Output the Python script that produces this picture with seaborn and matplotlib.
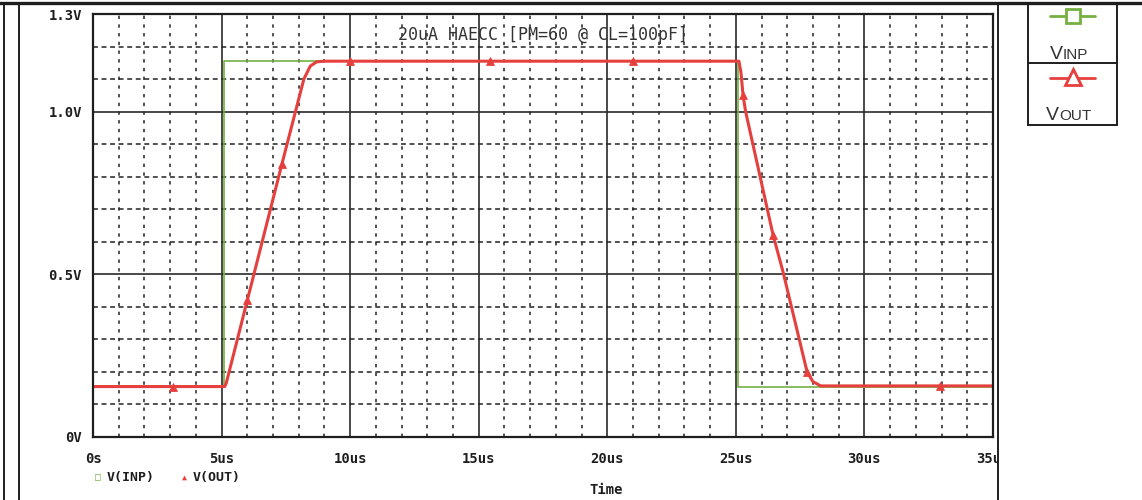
import numpy as np
import matplotlib
matplotlib.use("Agg")
import matplotlib.pyplot as plt
from matplotlib.lines import Line2D
from matplotlib.patches import Rectangle
from matplotlib.ticker import MultipleLocator, FixedLocator
from matplotlib.transforms import Bbox, TransformedBbox
import seaborn as sns

# ---- waveform data (time in us, voltage in V) ----
vinp_t = [0.0, 5.08, 5.08, 25.1, 25.1, 35.0]
vinp_v = [0.155, 0.155, 1.155, 1.155, 0.155, 0.155]

vout_t = [0.0, 3.1, 5.12, 5.18, 6.0, 7.35, 8.2, 8.45, 8.7, 9.0, 10.0, 15.45, 21.0,
          25.12, 25.2, 25.28, 25.38, 26.45, 26.84, 27.77, 28.0, 28.3, 32.95, 35.0]
vout_v = [0.155, 0.155, 0.155, 0.165, 0.42, 0.84, 1.10, 1.14, 1.153, 1.155, 1.155, 1.155, 1.155,
          1.155, 1.12, 1.05, 1.0, 0.62, 0.506, 0.2, 0.17, 0.157, 0.157, 0.157]

# probe symbols placed along V(OUT)
mark_t = [3.1, 6.0, 7.35, 10.0, 15.45, 21.0, 25.28, 26.45, 27.77, 32.95]
mark_v = [0.155, 0.42, 0.84, 1.155, 1.155, 1.155, 1.05, 0.62, 0.2, 0.157]

x_major = [0, 5, 10, 15, 20, 25, 30, 35]
x_labels = ["0s", "5us", "10us", "15us", "20us", "25us", "30us", "35us"]
y_major = [0.0, 0.5, 1.0, 1.3]
y_labels = ["0V", "0.5V", "1.0V", "1.3V"]

title_text = "20uA HAECC [PM=60 @ CL=100pF]"
GREEN = "#76b041"
RED = "#e5403d"
INK = "#1e1e1e"

sns.set_style("white")
plt.rcParams["font.family"] = ["DejaVu Sans Mono", "DejaVu Sans"]

W, H = 1142, 500
fig = plt.figure(figsize=(W / 100, H / 100), dpi=100)
fig.patch.set_facecolor("white")


def fx(px):
    return px / W


def fy(py):
    return 1 - py / H


ax = fig.add_axes([fx(93), fy(437), (993 - 93) / W, (437 - 14) / H])
ax.set_xlim(0, 35)
ax.set_ylim(0, 1.3)

# grid: solid majors, dashed/dotted minors
ax.xaxis.set_major_locator(FixedLocator(x_major))
ax.xaxis.set_minor_locator(MultipleLocator(1))
ax.yaxis.set_major_locator(FixedLocator(y_major))
ax.yaxis.set_minor_locator(MultipleLocator(0.1))
ax.xaxis.grid(True, which="major", color="#2a2a2a", lw=1.2, ls="-")
ax.yaxis.grid(True, which="major", color="#2a2a2a", lw=1.2, ls="-")
ax.xaxis.grid(True, which="minor", color="#222222", lw=1.1, ls=(0, (2.2, 3.5)))
ax.yaxis.grid(True, which="minor", color="#222222", lw=1.1, ls=(0, (3.2, 2.4)))
ax.set_axisbelow(True)

sns.lineplot(x=vinp_t, y=vinp_v, sort=False, estimator=None, color=GREEN, lw=1.2, ax=ax)
sns.lineplot(x=vout_t, y=vout_v, sort=False, estimator=None, color=RED, lw=2.2, ax=ax)
sns.scatterplot(x=mark_t, y=mark_v, marker="^", s=32, color=RED, edgecolor=RED,
                linewidth=0.6, ax=ax, zorder=5)

for s in ax.spines.values():
    s.set_visible(True)
    s.set_color(INK)
    s.set_linewidth(1.6)

ax.set_xticklabels(x_labels, fontsize=10, fontweight="bold", color=INK)
ax.set_yticklabels(y_labels, fontsize=10, fontweight="bold", color=INK)
ax.tick_params(which="major", direction="out", length=6, width=1.3, color=INK, pad=2)
ax.tick_params(which="minor", length=0)
ax.tick_params(axis="x", length=5, pad=6)
ax.set_xlabel("")
ax.set_ylabel("")

# last time label is cut by the window frame
clip = TransformedBbox(Bbox([[0, 0], [fx(998), 1]]), fig.transFigure)
for lab in ax.get_xticklabels():
    lab.set_clip_on(True)
    lab.set_clip_box(clip)

ax.text(0.5, 0.95, title_text, transform=ax.transAxes, ha="center", va="center",
        fontsize=12, color="#333333", zorder=6)

# trace list under the axis
fig.text(fx(98), fy(477), "\u25a1", color=GREEN, fontsize=7, ha="center", va="center")
fig.text(fx(107), fy(477), "V(INP)", color=INK, fontsize=9.5, fontweight="bold",
         ha="left", va="center")
fig.text(fx(184), fy(477), "\u25b2", color=RED, fontsize=6, ha="center", va="center")
fig.text(fx(193), fy(477), "V(OUT)", color=INK, fontsize=9.5, fontweight="bold",
         ha="left", va="center")
fig.text(fx(606), fy(490), "Time", color=INK, fontsize=10, fontweight="bold",
         ha="center", va="center")

# window frame
frame = [
    ([0, W], [3, 3], 2.4),
    ([4, 4], [3, H], 1.4),
    ([19, 19], [3, H], 1.4),
    ([998, 998], [3, H], 1.4),
]
for xs, ys, lw in frame:
    fig.add_artist(Line2D([fx(v) for v in xs], [fy(v) for v in ys], color=INK, lw=lw))

# symbol key box on the right
fig.add_artist(Rectangle((fx(1028), fy(125)), (1117 - 1028) / W, 122 / H,
                         transform=fig.transFigure, fill=False, edgecolor=INK, lw=1.4))
fig.add_artist(Line2D([fx(1028), fx(1117)], [fy(63), fy(63)], color=INK, lw=1.4))

fig.add_artist(Line2D([fx(1050), fx(1095)], [fy(16), fy(16)], color=GREEN, lw=2.0))
fig.add_artist(Line2D([fx(1072.5)], [fy(16)], marker="s", ms=10, mfc="white",
                      mec=GREEN, mew=2.0, color=GREEN))
fig.add_artist(Line2D([fx(1050), fx(1095)], [fy(78), fy(78)], color=RED, lw=2.0))
fig.add_artist(Line2D([fx(1072.5)], [fy(77)], marker="^", ms=11, mfc="white",
                      mec=RED, mew=2.0, color=RED))

key_font = dict(family="Liberation Sans", color="#333333", va="baseline")
fig.text(fx(1063), fy(59), "V", fontsize=14, ha="right", **key_font)
fig.text(fx(1063), fy(59), "INP", fontsize=11, ha="left", **key_font)
fig.text(fx(1059), fy(120), "V", fontsize=14, ha="right", **key_font)
fig.text(fx(1059), fy(120), "OUT", fontsize=11, ha="left", **key_font)

fig.savefig("out.png", dpi=100, facecolor="white")
